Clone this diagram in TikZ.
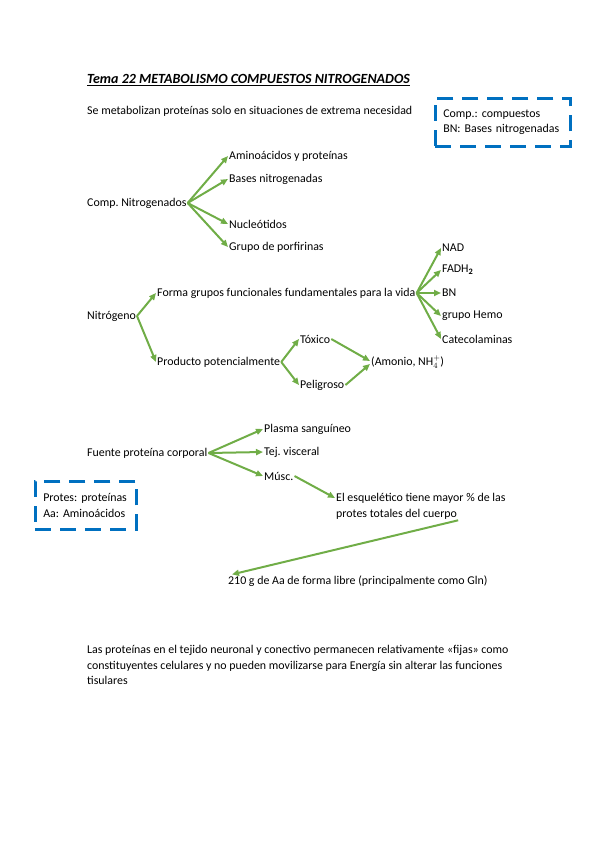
\documentclass[tikz,border=0pt]{standalone}
\usepackage{fontspec}
\setmainfont{Carlito}
\usetikzlibrary{arrows.meta}
\definecolor{arrowgreen}{RGB}{112,173,71}
\definecolor{boxblue}{RGB}{0,112,192}

\tikzstyle{item} = [anchor=west, inner sep=1pt, font=\fontsize{11.9}{15.5}\selectfont]
\tikzstyle{line} = [draw, line width=2pt, color=arrowgreen, -{Triangle[length=7pt,width=6pt]}]
\tikzstyle{legend} = [draw=boxblue, line width=2.6pt, dash pattern=on 16pt off 9pt,
    inner xsep=8pt, align=left, minimum height=48pt, anchor=north west,
    font=\fontsize{11.9}{15.5}\selectfont]

\begin{document}
\frenchspacing
\begin{tikzpicture}[x=1pt, y=-1pt]
	\useasboundingbox (0,0) rectangle (599,848);
	% Nodes
	\node [item, font=\fontsize{14}{17}\selectfont] (Title) at (86,80) {\bfseries\itshape\underline{Tema 22 METABOLISMO COMPUESTOS NITROGENADOS}};
	\node [item] (Necesidad) at (86,111) {Se metabolizan proteínas solo en situaciones de extrema necesidad};
	\node [legend, text width=119pt] (CompBox) at (434,97) {Comp.: compuestos\\BN: Bases nitrogenadas};

	\node [item] (CompNitro) at (86,203) {Comp. Nitrogenados};
	\node [item] (Aminoacidos) at (228,156) {Aminoácidos y proteínas};
	\node [item] (Bases) at (228,179) {Bases nitrogenadas};
	\node [item] (Nucleotidos) at (228,224) {Nucleótidos};
	\node [item] (Porfirinas) at (228,247) {Grupo de porfirinas};

	\node [item] (Nitrogeno) at (86,316) {Nitrógeno};
	\node [item] (Forma) at (156,293) {Forma grupos funcionales fundamentales para la vida};
	\node [item] (Producto) at (156,362) {Producto potencialmente};
	\node [item] (NAD) at (441,248) {NAD};
	\node [item] (FADH) at (441,270) {FADH\textsubscript{\bfseries 2}};
	\node [item] (BN) at (441,293) {BN};
	\node [item] (Hemo) at (441,316) {grupo Hemo};
	\node [item] (Catecol) at (441,339) {Catecolaminas};
	\node [item] (Toxico) at (299,339) {Tóxico};
	\node [item] (Peligroso) at (299,385) {Peligroso};
	\node [item] (Amonio) at (370,362) {(Amonio, NH$_4^{+}$)};

	\node [item] (Fuente) at (86,453) {Fuente proteína corporal};
	\node [item] (Plasma) at (263,429) {Plasma sanguíneo};
	\node [item] (Tejido) at (263,452) {Tej. visceral};
	\node [item] (Musc) at (263,476) {Músc.};
	\node [item] (Esq1) at (335,498) {El esquelético tiene mayor \% de las};
	\node [item] (Esq2) at (335,514) {protes totales del cuerpo};
	\node [item] (Libre) at (227,581) {210 g de Aa de forma libre (principalmente como Gln)};
	\node [legend, text width=85pt] (ProtBox) at (34,480) {Protes: proteínas\\Aa: Aminoácidos};

	\node [item, align=left] (Tejidos) at (86,665) {Las proteínas en el tejido neuronal y conectivo permanecen relativamente «fijas» como\\constituyentes celulares y no pueden movilizarse para Energía sin alterar las funciones\\tisulares};

	% Arrows
	\path [line] (CompNitro.east) -- (Aminoacidos.west);
	\path [line] (CompNitro.east) -- (Bases.west);
	\path [line] (CompNitro.east) -- (Nucleotidos.west);
	\path [line] (CompNitro.east) -- (Porfirinas.west);

	\path [line] (Nitrogeno.east) -- (Forma.west);
	\path [line] (Nitrogeno.east) -- (Producto.west);
	\path [line] (Forma.east) -- (NAD.west);
	\path [line] (Forma.east) -- (FADH.west);
	\path [line] (Forma.east) -- (BN.west);
	\path [line] (Forma.east) -- (Hemo.west);
	\path [line] (Forma.east) -- (Catecol.west);
	\path [line] (Producto.east) -- (Toxico.west);
	\path [line] (Producto.east) -- (Peligroso.west);
	\path [line] (Toxico.east) -- ([yshift=1pt]Amonio.west);
	\path [line] (Peligroso.east) -- ([yshift=-2pt]Amonio.west);

	\path [line] (Fuente.east) -- (Plasma.west);
	\path [line] (Fuente.east) -- (Tejido.west);
	\path [line] (Fuente.east) -- (Musc.west);
	\path [line] (Musc.east) -- (Esq1.west);
	\path [line] (Esq2.south east) -- ([xshift=5pt]Libre.north west);
\end{tikzpicture}
\end{document}
